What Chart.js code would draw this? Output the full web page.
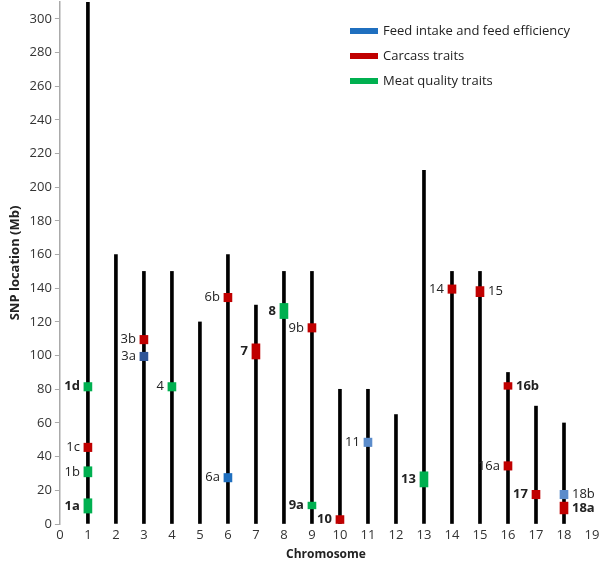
<!DOCTYPE html>
<html>
<head>
<meta charset="utf-8">
<script src="https://cdn.jsdelivr.net/npm/chart.js@4.4.1/dist/chart.umd.min.js"></script>
<style>
  html, body { margin: 0; padding: 0; background: #fff; }
  #wrap { width: 600px; height: 565px; }
</style>
</head>
<body>
<div id="wrap"><canvas id="snpChart"></canvas></div>
<script>
// chromosome lengths (Mb)
const chromosomes = [1, 2, 3, 4, 5, 6, 7, 8, 9, 10, 11, 12, 13, 14, 15, 16, 17, 18];
const chromLength = [310, 160, 150, 150, 120, 160, 130, 150, 150, 80, 80, 65, 210, 150, 150, 90, 70, 60];

// SNP regions
const markerNames = ['1a', '1b', '1c', '1d', '3a', '3b', '4', '6a', '6b', '7', '8', '9a', '9b', '10', '11', '13', '14', '15', '16a', '16b', '17', '18a', '18b'];
const markerChrom = [1, 1, 1, 1, 3, 3, 4, 6, 6, 7, 8, 9, 9, 10, 11, 13, 14, 15, 16, 16, 17, 18, 18];
const markerLow   = [6.5, 28, 43, 79, 97, 107, 79, 25, 132, 98, 122, 9, 114, 0, 46, 22, 137, 135, 32, 80, 15, 6, 15];
const markerHigh  = [15, 34, 48, 84, 102, 112, 84, 30, 137, 107, 131, 13, 119, 5, 51, 31, 142, 141, 37, 84, 20, 13, 20];
const markerTrait = ['meat', 'meat', 'carcass', 'meat', 'feed', 'carcass', 'meat', 'feed', 'carcass', 'carcass', 'meat', 'meat', 'carcass', 'carcass', 'feed', 'meat', 'carcass', 'carcass', 'carcass', 'carcass', 'carcass', 'carcass', 'feed'];

const traitKeys = ['feed', 'carcass', 'meat'];
const traitLabels = ['Feed intake and feed efficiency', 'Carcass traits', 'Meat quality traits'];
const yTicks = [0, 20, 40, 60, 80, 100, 120, 140, 160, 180, 200, 220, 240, 260, 280, 300];

// styles
const traitColors = { feed: '#1f6fbf', carcass: '#c00000', meat: '#00b050' };
const shadeOverride = { '3a': '#2f5597', '11': '#5b8ccb', '18b': '#5b8ccb' };
const boldLabels = ['1a', '1d', '7', '8', '9a', '10', '13', '16b', '17', '18a'];
const rightLabels = ['15', '16b', '18a', '18b'];
const FONT = '"Open Sans", "Noto Sans", sans-serif';

const markerColors = markerNames.map((n, i) => shadeOverride[n] || traitColors[markerTrait[i]]);

const markerLabelPlugin = {
    id: 'markerLabels',
    afterDatasetsDraw(chart) {
        const ctx = chart.ctx;
        const xs = chart.scales.x, ys = chart.scales.y;
        ctx.save();
        ctx.fillStyle = '#222';
        ctx.textBaseline = 'middle';
        markerNames.forEach((name, i) => {
            const x = xs.getPixelForValue(markerChrom[i]);
            const y = ys.getPixelForValue((markerLow[i] + markerHigh[i]) / 2);
            const bold = boldLabels.includes(name);
            ctx.font = (bold ? 'bold ' : '') + '13px ' + FONT;
            if (rightLabels.includes(name)) {
                ctx.textAlign = 'left';
                ctx.fillText(name, x + 8, y);
            } else {
                ctx.textAlign = 'right';
                ctx.fillText(name, x - 8, y);
            }
        });
        ctx.restore();
    }
};

const legendPlugin = {
    id: 'traitLegend',
    afterDraw(chart) {
        const ctx = chart.ctx;
        ctx.save();
        ctx.font = '13px ' + FONT;
        ctx.textBaseline = 'middle';
        ctx.textAlign = 'left';
        traitKeys.forEach((k, i) => {
            const y = 31 + i * 25;
            ctx.fillStyle = traitColors[k];
            ctx.fillRect(350, y - 3, 28, 6);
            ctx.fillStyle = '#222';
            ctx.fillText(traitLabels[i], 383, y);
        });
        ctx.restore();
    }
};

new Chart(document.getElementById('snpChart').getContext('2d'), {
    type: 'bar',
    data: {
        datasets: [{
            label: 'Chromosome',
            data: chromosomes.map((c, i) => ({ x: c, y: [0, chromLength[i]] })),
            backgroundColor: '#000',
            barThickness: 3,
            grouped: false,
            order: 2
        }, {
            label: 'SNP',
            data: markerNames.map((n, i) => ({ x: markerChrom[i], y: [markerLow[i], markerHigh[i]] })),
            backgroundColor: markerColors,
            barThickness: 8,
            grouped: false,
            order: 1
        }]
    },
    options: {
        responsive: true,
        maintainAspectRatio: false,
        animation: false,
        layout: { padding: { top: 2, right: 0, left: 3, bottom: 3 } },
        plugins: {
            legend: { display: false },
            tooltip: { enabled: false }
        },
        scales: {
            x: {
                type: 'linear',
                min: 0,
                max: 19,
                offset: false,
                afterFit: (s) => { s.paddingRight = 8; },
                grid: { display: false, drawTicks: false },
                border: { display: false },
                ticks: { stepSize: 1, color: '#333', font: { family: FONT, size: 13 }, padding: 3 },
                title: { display: true, text: 'Chromosome', color: '#222', font: { family: FONT, size: 12, weight: 'bold' }, padding: { top: 2, bottom: 0 } }
            },
            y: {
                min: 0,
                max: 310,
                afterBuildTicks: (axis) => { axis.ticks = yTicks.map(v => ({ value: v })); },
                afterFit: (s) => { s.paddingTop = 0; },
                grid: { drawOnChartArea: false, color: '#aaa', tickLength: 5 },
                border: { display: true, color: '#aaa', width: 1.5 },
                ticks: { color: '#333', font: { family: FONT, size: 13 }, padding: 3 },
                title: { display: true, text: 'SNP location (Mb)', color: '#222', font: { family: FONT, size: 13, weight: 'bold' }, padding: { bottom: 4 } }
            }
        }
    },
    plugins: [markerLabelPlugin, legendPlugin]
});
</script>
</body>
</html>
